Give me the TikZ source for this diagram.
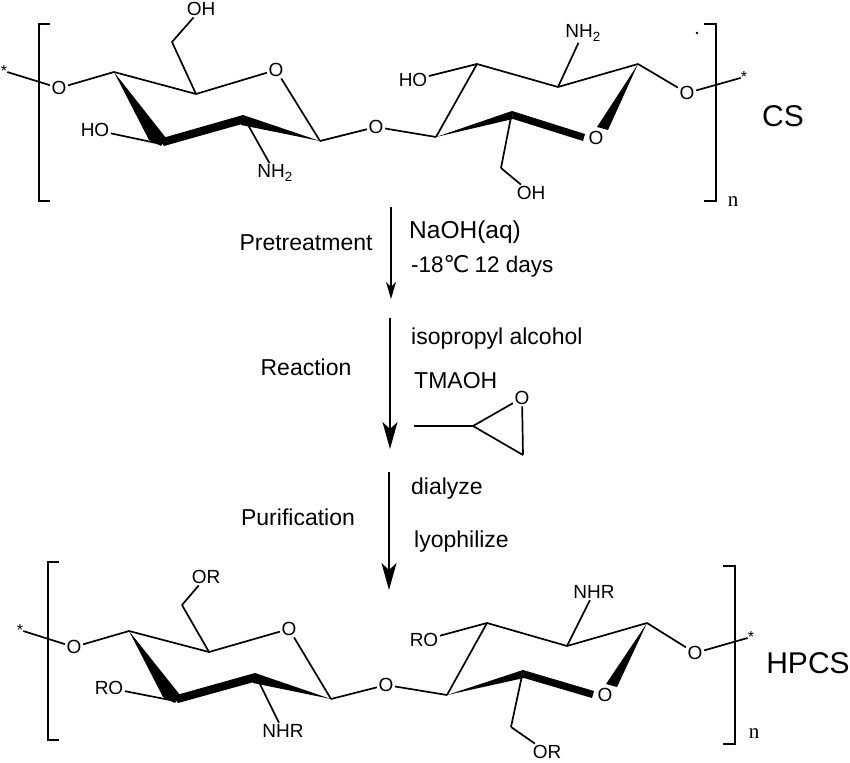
\documentclass[tikz,border=0pt]{standalone}
\usepackage{fontspec}
\setmainfont{Liberation Sans}
\newfontfamily\unitfont{DejaVu Sans}
\newfontfamily\indexfont{Liberation Serif}
\usetikzlibrary{arrows.meta,calc}

\tikzset{
    atom/.style={inner sep=1.5pt, font=\fontsize{19}{21}\selectfont},
    star/.style={inner sep=0pt, font=\fontsize{16}{18}\selectfont},
    step label/.style={inner sep=0pt, anchor=base west, font=\fontsize{23}{26}\selectfont},
    name label/.style={inner sep=0pt, font=\fontsize{30}{32}\selectfont},
    index/.style={inner sep=0pt, font=\indexfont\fontsize{21}{24}\selectfont},
    bond/.style={line width=1.7pt},
    brack/.style={line width=1.8pt},
    small arrow/.style={line width=1.8pt, -{Stealth[length=17pt,width=10pt,inset=5pt]}},
    big arrow/.style={line width=1.6pt, -{Stealth[length=27pt,width=15pt,inset=7pt]}}
}

\begin{document}
\begin{tikzpicture}[x=1pt,y=-1pt]
            \useasboundingbox (0,0) rectangle (850,762);

            \node[star] (sa) at (4,71) {*};
            \node[atom] (Oa) at (59,88) {O};
            \coordinate (a1) at (114,72);
            \coordinate (a2) at (161,144);
            \coordinate (a3) at (243,116);
            \coordinate (a4) at (320,141);
            \coordinate (a5) at (196,94);
            \coordinate (a6) at (172,42);
            \node[atom] (Ob) at (276,70) {O};
            \node[atom] (Oc) at (376,127) {O};
            \node[atom] (OHa) at (201,9) {OH};
            \node[atom] (HOa) at (95,130) {HO};
            \node[atom] (NHa) at (275,173) {NH\textsubscript{2}};

            \coordinate (b1) at (436,137);
            \coordinate (b2) at (477,64);
            \coordinate (b3) at (558,87);
            \coordinate (b4) at (638,64);
            \coordinate (b5) at (512,112);
            \coordinate (b6) at (501,168);
            \node[atom] (Od) at (596,138) {O};
            \node[atom] (Oe) at (687,93) {O};
            \node[star] (sb) at (744,77) {*};
            \node[atom] (HOb) at (413,80) {HO};
            \node[atom] (NHb) at (583,33) {NH\textsubscript{2}};
            \node[atom] (OHb) at (531,193) {OH};
            \node[inner sep=1pt, circle, fill] (dot) at (697,33) {};

            \draw[bond] (sa) -- (Oa);
            \draw[bond] (Oa) -- (a1);
            \draw[bond] (a1) -- (a5);
            \draw[bond] (a5) -- (Ob);
            \draw[bond] (Ob) -- (a4);
            \draw[bond] (a5) -- (a6);
            \draw[bond] (a6) -- (OHa);
            \draw[bond] (HOa) -- (a2);
            \draw[bond] (a3) -- (NHa);
            \draw[bond] (a4) -- (Oc);
            \draw[bond] (Oc) -- (b1);
            \draw[bond] (b1) -- (b2);
            \draw[bond] (b2) -- (b3);
            \draw[bond] (b3) -- (b4);
            \draw[bond] (HOb) -- (b2);
            \draw[bond] (b3) -- (NHb);
            \draw[bond] (b4) -- (Oe);
            \draw[bond] (Oe) -- (sb);
            \draw[bond] (b5) -- (b6);
            \draw[bond] (b6) -- (OHb);

            \fill (a1) -- ($(a2)+(-12,-4)$) -- ($(a2)+(0,2)$) -- ($(a2)+(5,-6)$) -- cycle;
            \fill ($(a2)+(-2,-5)$) -- ($(a3)+(0,-1)$) -- ($(a3)+(-1,8)$) -- ($(a2)+(3,2)$) -- cycle;
            \fill ($(a3)+(0,-1)$) -- (a4) -- ($(a3)+(-2,9)$) -- cycle;
            \fill (b1) -- ($(b5)+(0,-1)$) -- ($(b5)+(1,7)$) -- cycle;
            \fill ($(b5)+(0,-1)$) -- ($(Od)+(-11,-4)$) -- ($(Od)+(-13,3)$) -- ($(b5)+(1,7)$) -- cycle;
            \fill (b4) -- ($(Od)+(1,-11)$) -- ($(Od)+(12,-8)$) -- cycle;

            \coordinate (la) at (50,24);
            \coordinate (lb) at (39,24);
            \coordinate (lc) at (39,201);
            \coordinate (ld) at (50,201);
            \coordinate (ra) at (704,24);
            \coordinate (rb) at (716,24);
            \coordinate (rc) at (716,201);
            \coordinate (rd) at (704,201);
            \draw[brack] (la) -- (lb) -- (lc) -- (ld);
            \draw[brack] (ra) -- (rb) -- (rc) -- (rd);
            \node[index] (na) at (733,202) {n};
            \node[name label] (CS) at (783,116) {CS};

            \coordinate (pa) at (391,207);
            \coordinate (pb) at (391,299);
            \coordinate (qa) at (390,318);
            \coordinate (qb) at (390,449);
            \coordinate (ua) at (389,472);
            \coordinate (ub) at (389,590);
            \draw[small arrow] (pa) -- (pb);
            \draw[big arrow] (qa) -- (qb);
            \draw[big arrow] (ua) -- (ub);

            \node[step label, anchor=base] (pre) at (306,250) {Pretreatment};
            \node[step label, anchor=base] (rea) at (306,375) {Reaction};
            \node[step label, anchor=base] (pur) at (298,525) {Purification};
            \node[step label, font=\fontsize{24.5}{28}\selectfont] (naoh) at (409,238) {NaOH(aq)};
            \node[step label, font=\fontsize{22.5}{26}\selectfont] (temp) at (411,272) {-18{\unitfont\fontsize{23}{26}\selectfont ℃}\kern5pt 12 days};
            \node[step label] (iso) at (411,344) {isopropyl alcohol};
            \node[step label] (tma) at (414,388) {TMAOH};
            \node[step label] (dia) at (411,494) {dialyze};
            \node[step label] (lyo) at (414,547) {lyophilize};

            \coordinate (ea) at (414,426);
            \coordinate (eb) at (473,426);
            \coordinate (ec) at (523,455);
            \node[atom] (Of) at (522,398) {O};
            \draw[bond] (ea) -- (eb);
            \draw[bond] (eb) -- (Of);
            \draw[bond] (Of) -- (ec);
            \draw[bond] (ec) -- (eb);

            \node[star] (sc) at (20,630) {*};
            \node[atom] (Og) at (74,647) {O};
            \coordinate (c1) at (129,631);
            \coordinate (c2) at (175,701);
            \coordinate (c3) at (255,674);
            \coordinate (c4) at (331,699);
            \coordinate (c5) at (209,652);
            \coordinate (c6) at (182,605);
            \node[atom] (Oh) at (289,629) {O};
            \node[atom] (Oi) at (386,685) {O};
            \node[atom] (ORa) at (206,577) {OR};
            \node[atom] (ROa) at (109,688) {RO};
            \node[atom] (NRa) at (283,731) {NHR};

            \coordinate (d1) at (447,695);
            \coordinate (d2) at (487,623);
            \coordinate (d3) at (567,646);
            \coordinate (d4) at (647,623);
            \coordinate (d5) at (523,671);
            \coordinate (d6) at (511,727);
            \node[atom] (Oj) at (605,695) {O};
            \node[atom] (Ok) at (695,653) {O};
            \node[star] (sd) at (751,637) {*};
            \node[atom] (ROb) at (424,640) {RO};
            \node[atom] (NRb) at (594,592) {NHR};
            \node[atom] (ORb) at (547,752) {OR};

            \draw[bond] (sc) -- (Og);
            \draw[bond] (Og) -- (c1);
            \draw[bond] (c1) -- (c5);
            \draw[bond] (c5) -- (Oh);
            \draw[bond] (Oh) -- (c4);
            \draw[bond] (c5) -- (c6);
            \draw[bond] (c6) -- (ORa);
            \draw[bond] (ROa) -- (c2);
            \draw[bond] (c3) -- (NRa);
            \draw[bond] (c4) -- (Oi);
            \draw[bond] (Oi) -- (d1);
            \draw[bond] (d1) -- (d2);
            \draw[bond] (d2) -- (d3);
            \draw[bond] (d3) -- (d4);
            \draw[bond] (ROb) -- (d2);
            \draw[bond] (d3) -- (NRb);
            \draw[bond] (d4) -- (Ok);
            \draw[bond] (Ok) -- (sd);
            \draw[bond] (d5) -- (d6);
            \draw[bond] (d6) -- (ORb);

            \fill (c1) -- ($(c2)+(-12,-4)$) -- ($(c2)+(0,2)$) -- ($(c2)+(5,-6)$) -- cycle;
            \fill ($(c2)+(-2,-5)$) -- ($(c3)+(0,-1)$) -- ($(c3)+(-1,8)$) -- ($(c2)+(3,2)$) -- cycle;
            \fill ($(c3)+(0,-1)$) -- (c4) -- ($(c3)+(-2,9)$) -- cycle;
            \fill (d1) -- ($(d5)+(0,-1)$) -- ($(d5)+(1,7)$) -- cycle;
            \fill ($(d5)+(0,-1)$) -- ($(Oj)+(-11,-4)$) -- ($(Oj)+(-13,3)$) -- ($(d5)+(1,7)$) -- cycle;
            \fill (d4) -- ($(Oj)+(1,-11)$) -- ($(Oj)+(12,-8)$) -- cycle;

            \coordinate (ma) at (59,562);
            \coordinate (mb) at (48,562);
            \coordinate (mc) at (48,740);
            \coordinate (md) at (59,740);
            \coordinate (sa1) at (723,566);
            \coordinate (sb1) at (735,566);
            \coordinate (sc1) at (735,744);
            \coordinate (sd1) at (723,744);
            \draw[brack] (ma) -- (mb) -- (mc) -- (md);
            \draw[brack] (sa1) -- (sb1) -- (sc1) -- (sd1);
            \node[index] (nb) at (754,734) {n};
            \node[name label] (HPCS) at (808,663) {HPCS};
        \end{tikzpicture}
\end{document}
